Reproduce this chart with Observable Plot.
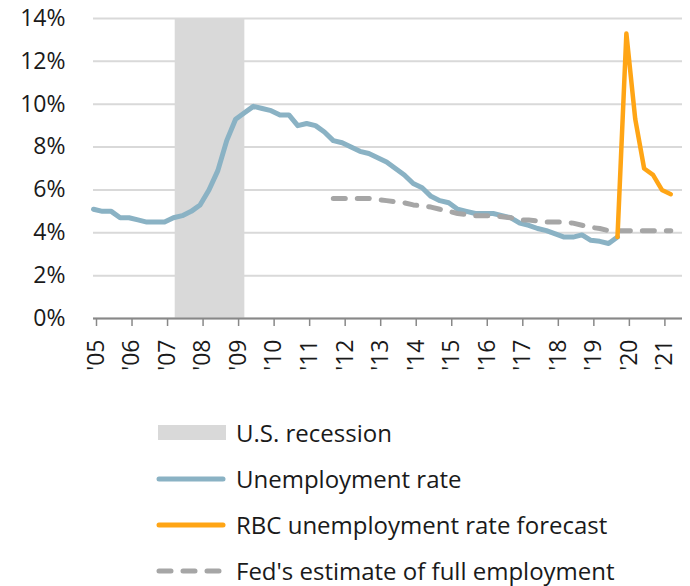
<!DOCTYPE html>
<html><head><meta charset="utf-8">
<script src="https://cdn.jsdelivr.net/npm/d3@7"></script>
<script src="https://cdn.jsdelivr.net/npm/@observablehq/plot@0.6"></script>
<style>
body{margin:0;background:#fff;font-family:"Open Sans",sans-serif;color:#1a1a1a}
#legend{padding-top:20px}
.row{display:flex;align-items:center;height:46px;margin-left:156px;font-size:24px;line-height:1}
.row svg{margin-right:8px;flex:none}
</style></head><body><div id="chart"></div><div id="legend"></div>
<script>
// Quarterly data, first point = 2005 (index 0), one point per quarter
const startYear = 2005;
const unemployment = [5.1,5.0,5.0,4.7,4.7,4.6,4.5,4.5,4.5,4.7,4.8,5.0,5.3,6.0,6.9,8.3,9.3,9.6,9.9,9.8,9.7,9.5,9.5,9.0,9.1,9.0,8.7,8.3,8.2,8.0,7.8,7.7,7.5,7.3,7.0,6.7,6.3,6.1,5.7,5.5,5.4,5.1,5.0,4.9,4.9,4.9,4.8,4.7,4.45,4.35,4.2,4.1,3.95,3.8,3.8,3.9,3.65,3.6,3.5,3.8];
const forecastStart = 59;
const forecast = [3.8,13.3,9.3,7.0,6.7,6.0,5.8];
const fedStart = 27;
const fedEstimate = [5.6,5.6,5.6,5.6,5.6,5.55,5.5,5.45,5.4,5.3,5.25,5.2,5.1,5.0,4.9,4.85,4.8,4.8,4.8,4.75,4.7,4.6,4.6,4.55,4.5,4.5,4.5,4.45,4.35,4.25,4.2,4.1,4.1,4.1,4.1,4.1,4.1,4.1,4.1];
const recessionStart = 2007.3;
const recessionEnd = 2009.26;
const years = [2005,2006,2007,2008,2009,2010,2011,2012,2013,2014,2015,2016,2017,2018,2019,2020,2021];
const yearLabels = ["'05","'06","'07","'08","'09","'10","'11","'12","'13","'14","'15","'16","'17","'18","'19","'20","'21"];
const yTicks = [0,2,4,6,8,10,12,14];
const legendItems = ["U.S. recession","Unemployment rate","RBC unemployment rate forecast","Fed's estimate of full employment"];

const q = i => startYear + i / 4;
const unempData = unemployment.map((v, i) => ({x: q(i), y: v}));
const forecastData = forecast.map((v, i) => ({x: q(forecastStart + i), y: v}));
const fedData = fedEstimate.map((v, i) => ({x: q(fedStart + i), y: v}));

const colors = {rec: "#d9d9d9", unemp: "#8ab2c4", fc: "#ffa515", fed: "#a6a6a6"};

const chart = Plot.plot({
  width: 690, height: 390,
  marginLeft: 93, marginRight: 8, marginTop: 18, marginBottom: 72,
  style: {fontFamily: "'Open Sans', sans-serif", color: "#1a1a1a", background: "#fff"},
  x: {domain: [2005, 2021.58]},
  y: {domain: [0, 14]},
  marks: [
    Plot.gridY(yTicks, {stroke: colors.rec, strokeOpacity: 1, strokeWidth: 2}),
    Plot.rect([{s: recessionStart, e: recessionEnd}], {x1: "s", x2: "e", y1: 0, y2: 14, fill: colors.rec}),
    Plot.axisY(yTicks, {tickSize: 0, tickPadding: 28, tickFormat: d => d + "%", fontSize: 23, label: null}),
    Plot.axisX(years, {tickSize: 8, stroke: "#888", strokeWidth: 1.5, tickRotate: -90, tickPadding: 13, dx: 3,
      tickFormat: d => yearLabels[years.indexOf(d)], fontSize: 23, label: null}),
    Plot.ruleY([0], {stroke: "#888", strokeWidth: 2}),
    Plot.line(unempData, {x: "x", y: "y", stroke: colors.unemp, strokeWidth: 5, strokeLinejoin: "round", strokeLinecap: "round"}),
    Plot.line(fedData, {x: "x", y: "y", stroke: colors.fed, strokeWidth: 5, strokeDasharray: "12 12", strokeLinecap: "round"}),
    Plot.line(forecastData, {x: "x", y: "y", stroke: colors.fc, strokeWidth: 4.5, strokeLinejoin: "round", strokeLinecap: "round"})
  ]
});
document.getElementById("chart").appendChild(chart);

const swatches = [
  `<svg width="72" height="20"><rect x="2" y="2" width="68" height="15" fill="${colors.rec}"/></svg>`,
  `<svg width="72" height="20"><line x1="3" x2="67" y1="10" y2="10" stroke="${colors.unemp}" stroke-width="5" stroke-linecap="round"/></svg>`,
  `<svg width="72" height="20"><line x1="3" x2="67" y1="10" y2="10" stroke="${colors.fc}" stroke-width="5" stroke-linecap="round"/></svg>`,
  `<svg width="72" height="20"><line x1="3" x2="67" y1="10" y2="10" stroke="${colors.fed}" stroke-width="5" stroke-linecap="round" stroke-dasharray="12 12"/></svg>`
];
const legend = document.getElementById("legend");
legendItems.forEach((t, i) => {
  const row = document.createElement("div");
  row.className = "row";
  row.innerHTML = swatches[i] + `<span>${t}</span>`;
  legend.appendChild(row);
});
</script>
</body></html>
